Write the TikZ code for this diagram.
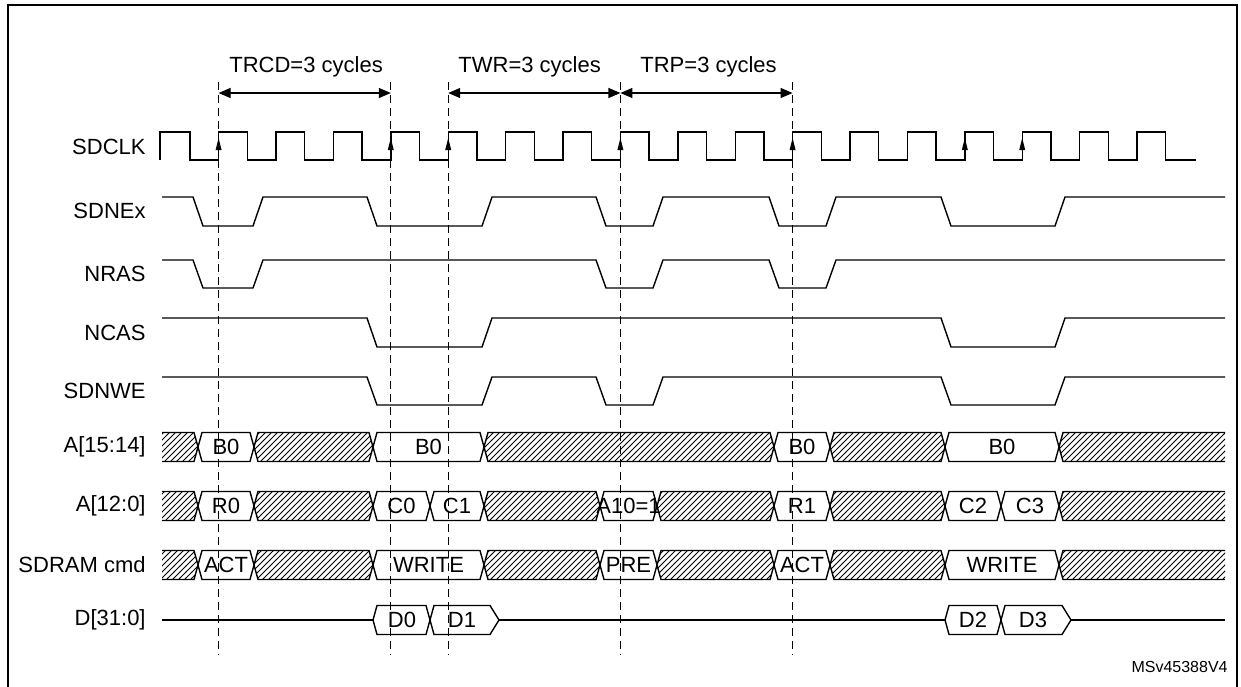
\documentclass[tikz,border=0pt]{standalone}
\usepackage{fontspec}
\setmainfont{Liberation Sans}
\usetikzlibrary{arrows.meta,patterns}

\tikzset{
  sig/.style={line width=0.7pt},
  siglabel/.style={anchor=east,inner sep=0pt,font=\fontsize{11}{13}\selectfont},
  busval/.style={sig,fill=white},
  bushatch/.style={sig,pattern=north east lines},
  vallabel/.style={inner sep=0pt,font=\fontsize{11}{13}\selectfont},
  cyclabel/.style={anchor=west,inner sep=0pt,font=\fontsize{11}{13}\selectfont},
  dimline/.style={line width=0.6pt,{Triangle[length=6pt,width=5pt]}-{Triangle[length=6pt,width=5pt]}},
  guide/.style={line width=0.5pt,dash pattern=on 4pt off 2.5pt}
}

% one bus row: list of x1/x2/label, empty label = hatched
\newcommand{\busrow}[2]{%
  \begin{scope}
    \clip (162,#1-20) rectangle (1225,#1+20);
    \foreach \xa/\xb/\txt in {#2} {
      \ifx\txt\empty
        \draw[bushatch] (\xa,#1) -- (\xa+4,#1-14.5) -- (\xb-4,#1-14.5) -- (\xb,#1) -- (\xb-4,#1+14.5) -- (\xa+4,#1+14.5) -- cycle;
      \else
        \draw[busval] (\xa,#1) -- (\xa+4,#1-14.5) -- (\xb-4,#1-14.5) -- (\xb,#1) -- (\xb-4,#1+14.5) -- (\xa+4,#1+14.5) -- cycle;
        \node[vallabel] at ({(\xa+\xb)/2},#1) {\txt};
      \fi
    }
  \end{scope}}

\begin{document}
\begin{tikzpicture}[x=0.5pt,y=-0.5pt]
\useasboundingbox (0,0) rectangle (1241,686);

% Frame
\draw[line width=1pt] (8,5) rectangle (1237,700);

% Signal names
\node[siglabel] (lclk) at (146,147) {SDCLK};
\node[siglabel] (lne) at (146,211) {SDNEx};
\node[siglabel] (lras) at (146,274) {NRAS};
\node[siglabel] (lcas) at (146,333) {NCAS};
\node[siglabel] (lwe) at (146,391) {SDNWE};
\node[siglabel] (laddrb) at (146,447) {A[15:14]};
\node[siglabel] (laddr) at (146,506) {A[12:0]};
\node[siglabel] (lcmd) at (146,565) {SDRAM cmd};
\node[siglabel] (ldata) at (146,620) {D[31:0]};

% Clock
\draw[sig] (160,160) -- (160,132) -- (190,132) -- (190,160)
  foreach \k in {0,...,16} { -- (218.6+57.4*\k,160) -- (218.6+57.4*\k,132)
    -- (247.3+57.4*\k,132) -- (247.3+57.4*\k,160) } -- (1196,160);
\foreach \k in {0,3,4,7,10,13,14}
  \fill (218.6+57.4*\k,138) -- (215.6+57.4*\k,150) -- (221.6+57.4*\k,150) -- cycle;

% Control signals
\draw[sig] (162,197) foreach \f/\r in {193/253,367/482,596/653,769/826,941/1055}
  { -- (\f,197) -- (\f+10,226) -- (\r,226) -- (\r+10,197) } -- (1225,197);
\draw[sig] (162,260) foreach \f/\r in {193/253,596/653,769/826}
  { -- (\f,260) -- (\f+10,288) -- (\r,288) -- (\r+10,260) } -- (1225,260);
\draw[sig] (162,318) foreach \f/\r in {367/482,941/1055}
  { -- (\f,318) -- (\f+10,347) -- (\r,347) -- (\r+10,318) } -- (1225,318);
\draw[sig] (162,377) foreach \f/\r in {367/482,596/653,941/1055}
  { -- (\f,377) -- (\f+10,405) -- (\r,405) -- (\r+10,377) } -- (1225,377);

% Buses
\busrow{447}{150/198/,198/254/B0,254/373/,373/484/B0,484/774/,774/830/B0,830/945/,945/1059/B0,1059/1240/}
\busrow{506}{150/198/,198/254/R0,254/373/,373/430/C0,430/484/C1,484/600/,600/657/A10=1,657/774/,774/830/R1,830/945/,945/1001/C2,1001/1059/C3,1059/1240/}
\busrow{565}{150/198/,198/254/ACT,254/373/,373/484/WRITE,484/600/,600/657/PRE,657/774/,774/830/ACT,830/945/,945/1059/WRITE,1059/1240/}

% Data
\draw[sig] (162,620) -- (373,620);
\draw[busval] (373,620) -- (377,605.5) -- (426,605.5) -- (430,620) -- (426,634.5) -- (377,634.5) -- cycle;
\draw[busval] (430,620) -- (434,605.5) -- (490,605.5) -- (499,620) -- (490,634.5) -- (434,634.5) -- cycle;
\draw[sig] (499,620) -- (945,620);
\draw[busval] (945,620) -- (949,605.5) -- (997,605.5) -- (1001,620) -- (997,634.5) -- (949,634.5) -- cycle;
\draw[busval] (1001,620) -- (1005,605.5) -- (1062,605.5) -- (1071,620) -- (1062,634.5) -- (1005,634.5) -- cycle;
\draw[sig] (1071,620) -- (1225,620);
\node[vallabel] (d0) at (402,620) {D0};
\node[vallabel] (d1) at (462,620) {D1};
\node[vallabel] (d2) at (973,620) {D2};
\node[vallabel] (d3) at (1033,620) {D3};

% Guide lines on the rising edges
\foreach \k/\n in {0/ga,3/gb,4/gc,7/gd,10/ge} {
  \coordinate (\n top) at (218.6+57.4*\k,82);
  \coordinate (\n) at (218.6+57.4*\k,93);
  \draw[guide] (\n top) -- (218.6+57.4*\k,655);
}

% Timing constraints
\draw[dimline] (ga) -- (gb);
\draw[dimline] (gc) -- (gd);
\draw[dimline] (gd) -- (ge);
\node[cyclabel] (trcd) at (229,67) {TRCD=3 cycles};
\node[cyclabel] (twr) at (458,67) {TWR=3 cycles};
\node[cyclabel] (trp) at (640,67) {TRP=3 cycles};

\node[anchor=east,inner sep=0pt,font=\fontsize{8}{9}\selectfont] (ref) at (1228,667) {MSv45388V4};
\end{tikzpicture}
\end{document}
